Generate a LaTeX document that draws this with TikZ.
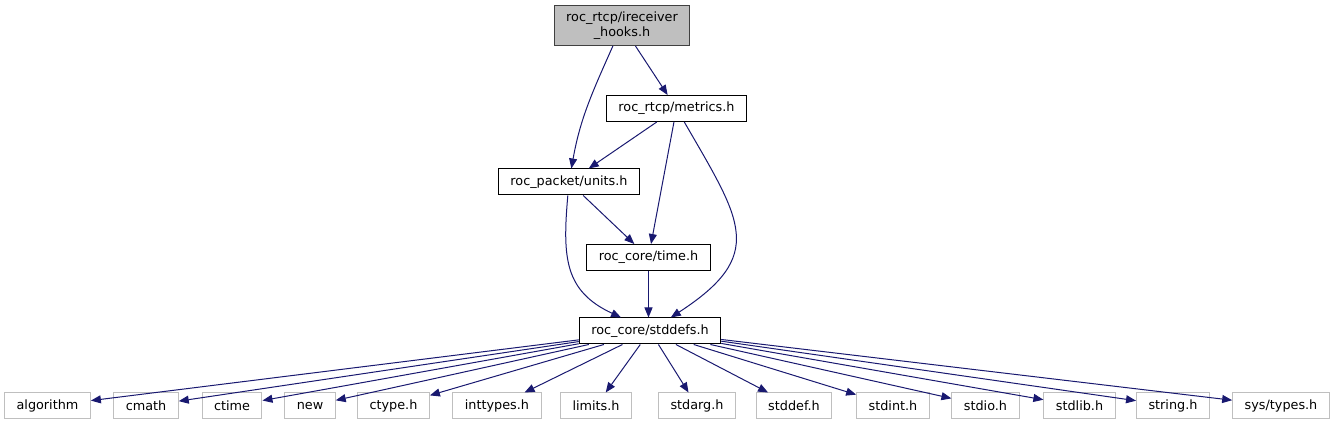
\documentclass[tikz,border=0pt]{standalone}
\usepackage{fontspec}
\setmainfont{DejaVu Sans}
\usetikzlibrary{arrows.meta}
\definecolor{edgeblue}{RGB}{25,25,112}
\definecolor{sysgray}{RGB}{191,191,191}
\definecolor{rootfill}{RGB}{191,191,191}
\definecolor{rootline}{RGB}{64,64,64}

\begin{document}
\begin{tikzpicture}[x=0.75pt, y=0.75pt,
  every node/.style={font=\fontsize{9.6}{11.25}\selectfont},
  file/.style={draw=black, line width=0.75pt, fill=white, inner xsep=9pt, inner ysep=0pt, minimum height=19.5pt},
  sysfile/.style={file, draw=sysgray},
  rootfile/.style={file, draw=rootline, fill=rootfill, align=center, minimum height=30pt},
  dep/.style={draw=edgeblue, line width=0.75pt, -{Triangle[length=7.5pt, width=6pt]}}]
  \useasboundingbox (0,0) rectangle (1336,425);

  \node[rootfile] (hooks)   at (622,399.5) {roc\_rtcp/ireceiver\\\_hooks.h};
  \node[file]     (metrics) at (676.5,316.5) {roc\_rtcp/metrics.h};
  \node[file]     (units)   at (569,243)     {roc\_packet/units.h};
  \node[file]     (time)    at (648.5,167.5) {roc\_core/time.h};
  \node[file]     (stddefs) at (650,94)      {roc\_core/stddefs.h};

  % system headers
  \node[sysfile] (algorithm) at (47.5,19)  {algorithm};
  \node[sysfile] (cmath)     at (146,19)   {cmath};
  \node[sysfile] (ctime)     at (232,19)   {ctime};
  \node[sysfile] (new)       at (310,19)   {new};
  \node[sysfile] (ctype)     at (393.5,19) {ctype.h};
  \node[sysfile] (inttypes)  at (497,19)   {inttypes.h};
  \node[sysfile] (limits)    at (596,19)   {limits.h};
  \node[sysfile] (stdarg)    at (697,19)   {stdarg.h};
  \node[sysfile] (stddef)    at (794,19)   {stddef.h};
  \node[sysfile] (stdint)    at (893,19)   {stdint.h};
  \node[sysfile] (stdio)     at (985.5,19) {stdio.h};
  \node[sysfile] (stdlib)    at (1079.5,19) {stdlib.h};
  \node[sysfile] (string)    at (1173,19)  {string.h};
  \node[sysfile] (systypes)  at (1281,19)  {sys/types.h};

  \draw[dep] (hooks) to[out=-114, in=80] (units);
  \draw[dep] (hooks) -- (metrics);
  \draw[dep] (metrics) -- (units);
  \draw[dep] (metrics) -- (time);
  \draw[dep] (metrics) to[out=-60, in=33, looseness=1.5] (stddefs);
  \draw[dep] (units) -- (time);
  \draw[dep] (units) to[out=-95, in=155, looseness=1.2] (stddefs);
  \draw[dep] (time.south) -- (time.south |- stddefs.north);

  \draw[dep] (stddefs) -- (algorithm);
  \draw[dep] (stddefs) -- (cmath);
  \draw[dep] (stddefs) -- (ctime);
  \draw[dep] (stddefs) -- (new);
  \draw[dep] (stddefs) -- (ctype);
  \draw[dep] (stddefs) -- (inttypes);
  \draw[dep] (stddefs) -- (limits);
  \draw[dep] (stddefs) -- (stdarg);
  \draw[dep] (stddefs) -- (stddef);
  \draw[dep] (stddefs) -- (stdint);
  \draw[dep] (stddefs) -- (stdio);
  \draw[dep] (stddefs) -- (stdlib);
  \draw[dep] (stddefs) -- (string);
  \draw[dep] (stddefs) -- (systypes);
\end{tikzpicture}
\end{document}
